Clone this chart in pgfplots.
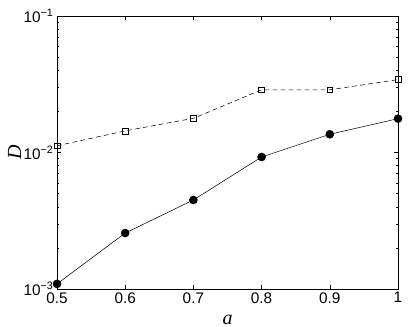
\documentclass[border=0pt]{standalone}
\usepackage{fontspec}
\setmainfont{Liberation Sans}
\newfontfamily\serif{Liberation Serif}
\usepackage{pgfplots}
\pgfplotsset{compat=1.18}

\begin{document}
\begin{tikzpicture}
  \begin{axis}[
      scale only axis,
      width=255.75pt,
      height=204.75pt,
      ymode=log,
      xmin=0.5, xmax=1,
      ymin=1e-3, ymax=1e-1,
      xtick={0.5,0.6,0.7,0.8,0.9,1},
      xticklabels={0.5,0.6,0.7,0.8,0.9,1},
      ytick={1e-3,1e-2,1e-1},
      yticklabels={10\textsuperscript{−3},10\textsuperscript{−2},10\textsuperscript{−1}},
      tick label style={font=\fontsize{11.5}{13}\selectfont},
      xticklabel style={yshift=1pt},
      yticklabel style={xshift=1pt},
      xlabel={\serif\itshape a},
      ylabel={\serif\itshape D},
      label style={font=\fontsize{15}{16}\selectfont},
      xlabel style={yshift=-2pt},
      ylabel style={yshift=-5pt},
      tick align=inside,
      major tick length=3pt,
      minor tick length=1.8pt,
      tick style={black, line width=0.4pt},
      axis line style={line width=0.5pt},
      clip=false,
  ]

  % dashed, open squares
  \addplot[black, line width=0.4pt, dash pattern=on 3.5pt off 2.5pt,
           mark=square, mark size=2.2pt, mark options={solid}] coordinates {
  (0.5, 0.0112) (0.6, 0.0144) (0.7, 0.0178) (0.8, 0.0288) (0.9, 0.0288) (1.0, 0.0342)
  };

  % solid, filled circles
  \addplot[black, line width=0.4pt, mark=*, mark size=3pt] coordinates {
  (0.5, 0.00109) (0.6, 0.00257) (0.7, 0.00449) (0.8, 0.00927) (0.9, 0.0136) (1.0, 0.0177)
  };

  \end{axis}
  \pgfresetboundingbox
  \path (current axis.south west) ++(-42.75pt,-28.5pt) coordinate (bl);
  \path (current axis.north east) ++(8.25pt,12pt) coordinate (tr);
  \path[use as bounding box] (bl) rectangle (tr);
\end{tikzpicture}
\end{document}
